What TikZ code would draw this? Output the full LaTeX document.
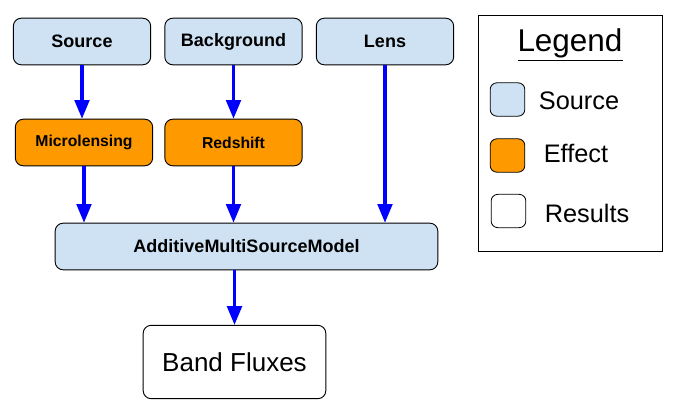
\documentclass[tikz,border=0pt]{standalone}
\usepackage{fontspec}
\setmainfont{Liberation Sans}
\usetikzlibrary{arrows.meta}

\definecolor{srcblue}{HTML}{CFE2F3}
\definecolor{efforange}{HTML}{FF9900}
\definecolor{flowblue}{HTML}{0000FF}

\tikzset{
  box/.style={draw=black, line width=0.7pt, rounded corners=6pt, inner sep=0pt},
  srcbox/.style={box, fill=srcblue, minimum width=103pt, minimum height=35pt, font=\bfseries\fontsize{13.5}{16}\selectfont},
  effbox/.style={box, fill=efforange, minimum width=103pt, minimum height=35pt, font=\bfseries\fontsize{11.8}{14}\selectfont},
  resbox/.style={box, fill=white, minimum width=137pt, minimum height=55pt, font=\fontsize{19.5}{23}\selectfont},
  swatch/.style={draw=black, line width=0.6pt, rounded corners=5pt, minimum width=26pt, minimum height=25pt},
  keytext/.style={font=\fontsize{19}{23}\selectfont},
  flow/.style={draw=flowblue, line width=2.3pt, -{Triangle[length=14pt,width=11pt]}}
}

\begin{document}
\begin{tikzpicture}[x=0.75pt,y=-0.75pt]

        \useasboundingbox (0,0) rectangle (682,414);

        %%% inputs %%%
        \node[srcbox] (source) at (82,41.5) {Source};
        \node[srcbox] (background) at (233.5,41.5) {Background};
        \node[srcbox] (lens) at (385,41.5) {Lens};

        %%% effects %%%
        \node[effbox] (micro) at (84,142.5) {Microlensing};
        \node[effbox] (redshift) at (233.5,142.5) {Redshift};

        %%% model and output %%%
        \node[srcbox, minimum width=287pt] (model) at (246.5,246.5) {AdditiveMultiSourceModel};
        \node[resbox] (fluxes) at (234.5,362) {Band Fluxes};

        \draw[flow] (source.south) -- (source.south |- micro.north);
        \draw[flow] (background.south) -- (background.south |- redshift.north);
        \draw[flow] (micro.south) -- (micro.south |- model.north);
        \draw[flow] (redshift.south) -- (redshift.south |- model.north);
        \draw[flow] (lens.south) -- (lens.south |- model.north);
        \draw[flow] (model.south -| fluxes.north) -- (fluxes.north);

        %%% legend %%%
        \node[draw=black, line width=0.7pt, minimum width=138pt, minimum height=177pt] (legend) at (570,133) {};
        \node[font=\fontsize{23.6}{28}\selectfont] (title) at (570,45) {\underline{Legend}};
        \node[swatch, fill=srcblue] (keysrc) at (507.5,99.5) {};
        \node[swatch, fill=efforange] (keyeff) at (507.5,155.5) {};
        \node[swatch, fill=white] (keyres) at (508.5,211) {};
        \node[keytext] (labsrc) at (579,101) {Source};
        \node[keytext] (labeff) at (576,153) {Effect};
        \node[keytext] (labres) at (587,213) {Results};

\end{tikzpicture}
\end{document}
